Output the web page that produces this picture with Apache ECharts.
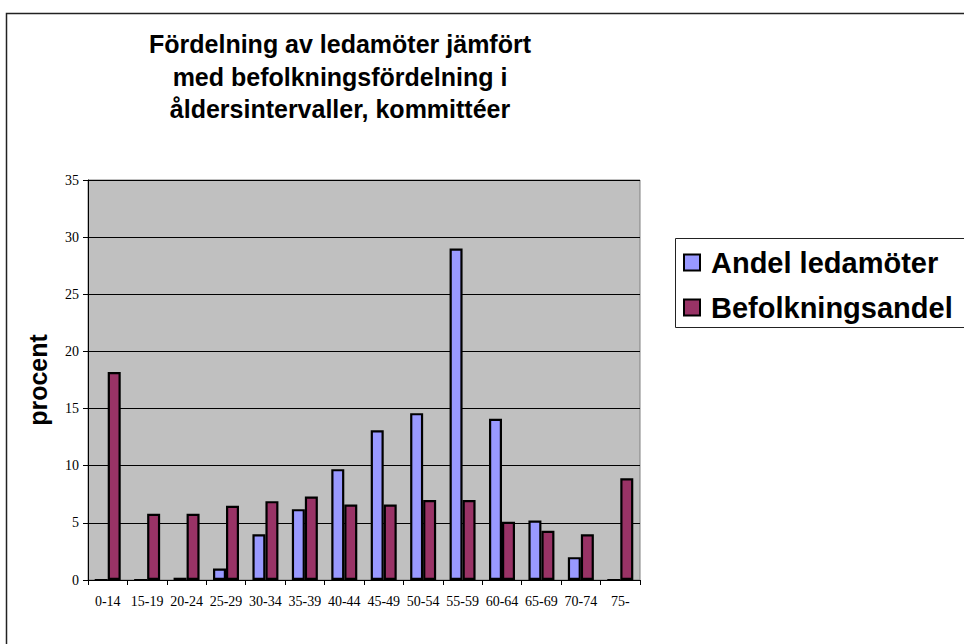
<!DOCTYPE html>
<html>
<head>
<meta charset="utf-8">
<script src="https://cdn.jsdelivr.net/npm/echarts@6/dist/echarts.min.js"></script>
<style>
  html, body { margin: 0; padding: 0; background: #fff; }
  #chart { width: 964px; height: 644px; }
</style>
</head>
<body>
<div id="chart"></div>
<script>
var categories = ['0-14', '15-19', '20-24', '25-29', '30-34', '35-39', '40-44', '45-49', '50-54', '55-59', '60-64', '65-69', '70-74', '75-'];
var andelLedamoter = [0, 0, 0.2, 1.0, 4.0, 6.2, 9.7, 13.1, 14.6, 29.0, 14.1, 5.2, 2.0, 0];
var befolkningsandel = [18.2, 5.8, 5.8, 6.5, 6.9, 7.3, 6.6, 6.6, 7.0, 7.0, 5.1, 4.3, 4.0, 8.9];
var titleLines = ['Fördelning av ledamöter jämfört', 'med befolkningsfördelning i', 'åldersintervaller, kommittéer'];

var chart = echarts.init(document.getElementById('chart'), null, { renderer: 'svg' });
chart.setOption({
  animation: false,
  backgroundColor: '#fff',
  title: {
    text: titleLines.join('\n'),
    left: 335,
    top: 23,
    textAlign: 'center',
    textStyle: { fontFamily: 'Liberation Sans, Arial', fontWeight: 'bold', fontSize: 25, lineHeight: 32.5, color: '#000' }
  },
  graphic: [
    { type: 'rect', shape: { x: 6.5, y: 13.5, width: 1000, height: 700 }, style: { fill: 'none', stroke: '#222', lineWidth: 1.5 }, z: 0 },
    { type: 'rect', shape: { x: 675.5, y: 238.5, width: 300, height: 89 }, style: { fill: '#fff', stroke: '#222', lineWidth: 1 }, z: 1 }
  ],
  legend: {
    orient: 'vertical',
    left: 683,
    top: 248,
    padding: 0,
    itemWidth: 16,
    itemHeight: 16,
    itemGap: 16,
    icon: 'rect',
    z: 5,
    textStyle: { fontFamily: 'Liberation Sans, Arial', fontWeight: 'bold', fontSize: 29, lineHeight: 28, color: '#000', padding: [0, 0, 0, 6] },
    data: ['Andel ledamöter', 'Befolkningsandel']
  },
  grid: {
    left: 88, right: 324, top: 180, bottom: 64,
    show: true, backgroundColor: '#C0C0C0', borderColor: '#808080', borderWidth: 1
  },
  xAxis: {
    type: 'category',
    data: categories,
    axisLine: { lineStyle: { color: '#000', width: 1 } },
    axisTick: { show: true, length: 5, lineStyle: { color: '#000' } },
    axisLabel: { color: '#000', fontFamily: 'Liberation Serif, Times New Roman', fontSize: 14, margin: 14, interval: 0 }
  },
  yAxis: {
    type: 'value',
    min: 0, max: 35, interval: 5,
    name: 'procent',
    nameLocation: 'middle',
    nameRotate: 90,
    nameGap: 38,
    nameTextStyle: { fontFamily: 'Liberation Sans, Arial', fontWeight: 'bold', fontSize: 25, color: '#000' },
    axisLine: { show: true, lineStyle: { color: '#000', width: 1 } },
    axisTick: { show: true, length: 5, lineStyle: { color: '#000' } },
    axisLabel: { color: '#000', fontFamily: 'Liberation Serif, Times New Roman', fontSize: 14, margin: 9 },
    splitLine: { lineStyle: { color: '#000', width: 1 } }
  },
  series: [
    {
      name: 'Andel ledamöter',
      type: 'bar',
      data: andelLedamoter,
      barWidth: 13,
      barGap: '0%',
      itemStyle: { color: '#9999FF', borderColor: '#000', borderWidth: 2.2 }
    },
    {
      name: 'Befolkningsandel',
      type: 'bar',
      data: befolkningsandel,
      barWidth: 13,
      barGap: '0%',
      itemStyle: { color: '#993366', borderColor: '#000', borderWidth: 2.2 }
    }
  ]
});
window.addEventListener('resize', function() { chart.resize(); });
</script>
</body>
</html>
